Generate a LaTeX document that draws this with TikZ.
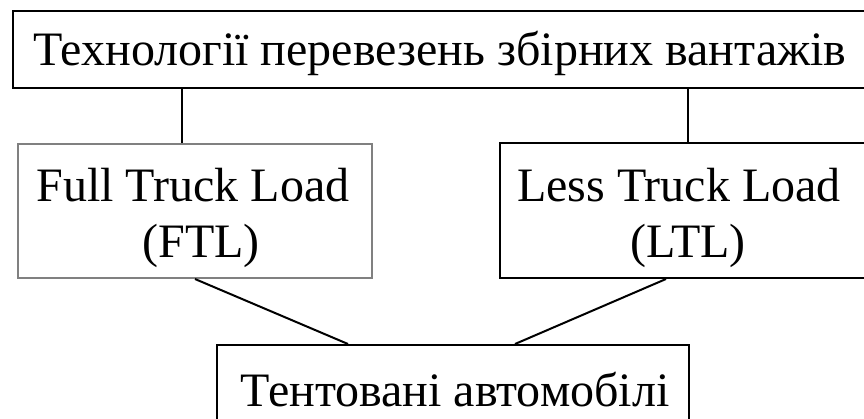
\documentclass[tikz,border=0pt]{standalone}
\usepackage{fontspec}
\setmainfont{Liberation Serif}
\begin{document}
\begin{tikzpicture}[x=1pt,y=-1pt,
  box/.style={draw=black,line width=2pt,rectangle,inner sep=0pt},
  greybox/.style={draw=black!50,line width=2pt,rectangle,inner sep=0pt},
  lbl/.style={anchor=base,inner sep=0pt,font=\fontsize{48}{57}\selectfont},
  link/.style={draw=black,line width=2pt}]
\useasboundingbox (0,0) rectangle (864,418);
\clip (0,0) rectangle (864,418);
\fill[white] (0,0) rectangle (864,418);
% boxes
\node[box,minimum width=854pt,minimum height=77pt] (top) at (440,49.5) {};
\node[greybox,minimum width=354pt,minimum height=134pt] (lb) at (195,211) {};
\node[box,minimum width=366pt,minimum height=135pt] (rb) at (683,210.5) {};
\node[box,minimum width=472pt,minimum height=77pt] (bb) at (453,383.5) {};
% texts
\node[lbl] (ttop) at (440,65) {Технології перевезень збірних вантажів};
\node[lbl] (tl1) at (193,201) {Full Truck Load};
\node[lbl] (tl2) at (201,257) {(FTL)};
\node[lbl] (tr1) at (679,201) {Less Truck Load};
\node[lbl] (tr2) at (688,257) {(LTL)};
\node[lbl] (tb) at (455,406) {Тентовані автомобілі};
% connectors
\draw[link] ([xshift=-13pt]lb.north) -- ([xshift=-13pt]lb.north |- top.south);
\draw[link] ([xshift=5pt]rb.north) -- ([xshift=5pt]rb.north |- top.south);
\draw[link] (lb.south) -- ([xshift=-105pt]bb.north);
\draw[link] ([xshift=-17pt]rb.south) -- ([xshift=62pt]bb.north);
\end{tikzpicture}
\end{document}
